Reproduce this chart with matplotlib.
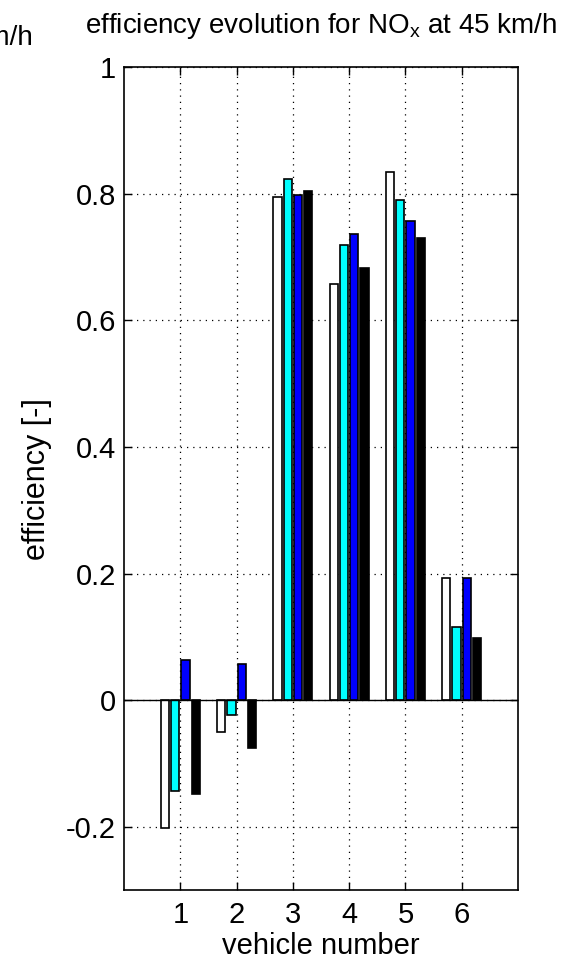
import matplotlib
matplotlib.use("Agg")
import matplotlib.pyplot as plt
import numpy as np

plt.rcParams['font.family'] = ['Liberation Sans', 'DejaVu Sans']
plt.rcParams['mathtext.fontset'] = 'custom'
plt.rcParams['mathtext.rm'] = 'Liberation Sans'
plt.rcParams['mathtext.it'] = 'Liberation Sans'

# efficiency per vehicle, one list per measurement series
vehicles = [1, 2, 3, 4, 5, 6]
series_white = [-0.202, -0.051, 0.795, 0.657, 0.835, 0.193]
series_cyan = [-0.144, -0.024, 0.823, 0.720, 0.790, 0.115]
series_blue = [0.063, 0.057, 0.798, 0.736, 0.757, 0.193]
series_black = [-0.149, -0.076, 0.805, 0.683, 0.730, 0.098]
colors = ['white', 'cyan', 'blue', 'black']
yticks = [-0.2, 0, 0.2, 0.4, 0.6, 0.8, 1]
ytick_labels = ['-0.2', '0', '0.2', '0.4', '0.6', '0.8', '1']

fig = plt.figure(figsize=(5.8, 9.64), dpi=100)
ax = fig.add_axes([0.214, 0.077, 0.679, 0.853])

data = [series_white, series_cyan, series_blue, series_black]
n = len(data)
group_w = min(0.8, n / (n + 1.5))
step = group_w / n
x = np.array(vehicles, dtype=float)
for i, (vals, c) in enumerate(zip(data, colors)):
    off = (i - (n - 1) / 2) * step
    ax.bar(x + off, vals, width=step * 0.8, color=c, edgecolor='black',
           linewidth=1.2, zorder=3)

ax.axhline(0, color='black', linewidth=1.0, zorder=4)
ax.set_xlim(0, 7)
ax.set_ylim(-0.3, 1)
ax.set_xticks(vehicles)
ax.set_yticks(yticks)
ax.set_yticklabels(ytick_labels)
ax.grid(True, linestyle=(0, (1, 4)), color='black', linewidth=0.9, zorder=1)
ax.tick_params(direction='in', top=True, right=True, length=6, width=1,
               labelsize=21)
ax.tick_params(axis='y', pad=6)
ax.tick_params(axis='x', pad=8)
for s in ax.spines.values():
    s.set_linewidth(1.2)

ax.set_xlabel('vehicle number', fontsize=21, labelpad=2)
ax.set_ylabel('efficiency [-]', fontsize=22, labelpad=10)
ax.set_title(r'efficiency evolution for NO$_{\mathrm{x}}$ at 45 km/h',
             fontsize=20, pad=25)

# title of the neighbouring panel, cut by the left edge
fig.text(0.057, 0.953, 'at 45 km/h', fontsize=20, ha='right', va='baseline')

fig.savefig('out.png', dpi=100)
